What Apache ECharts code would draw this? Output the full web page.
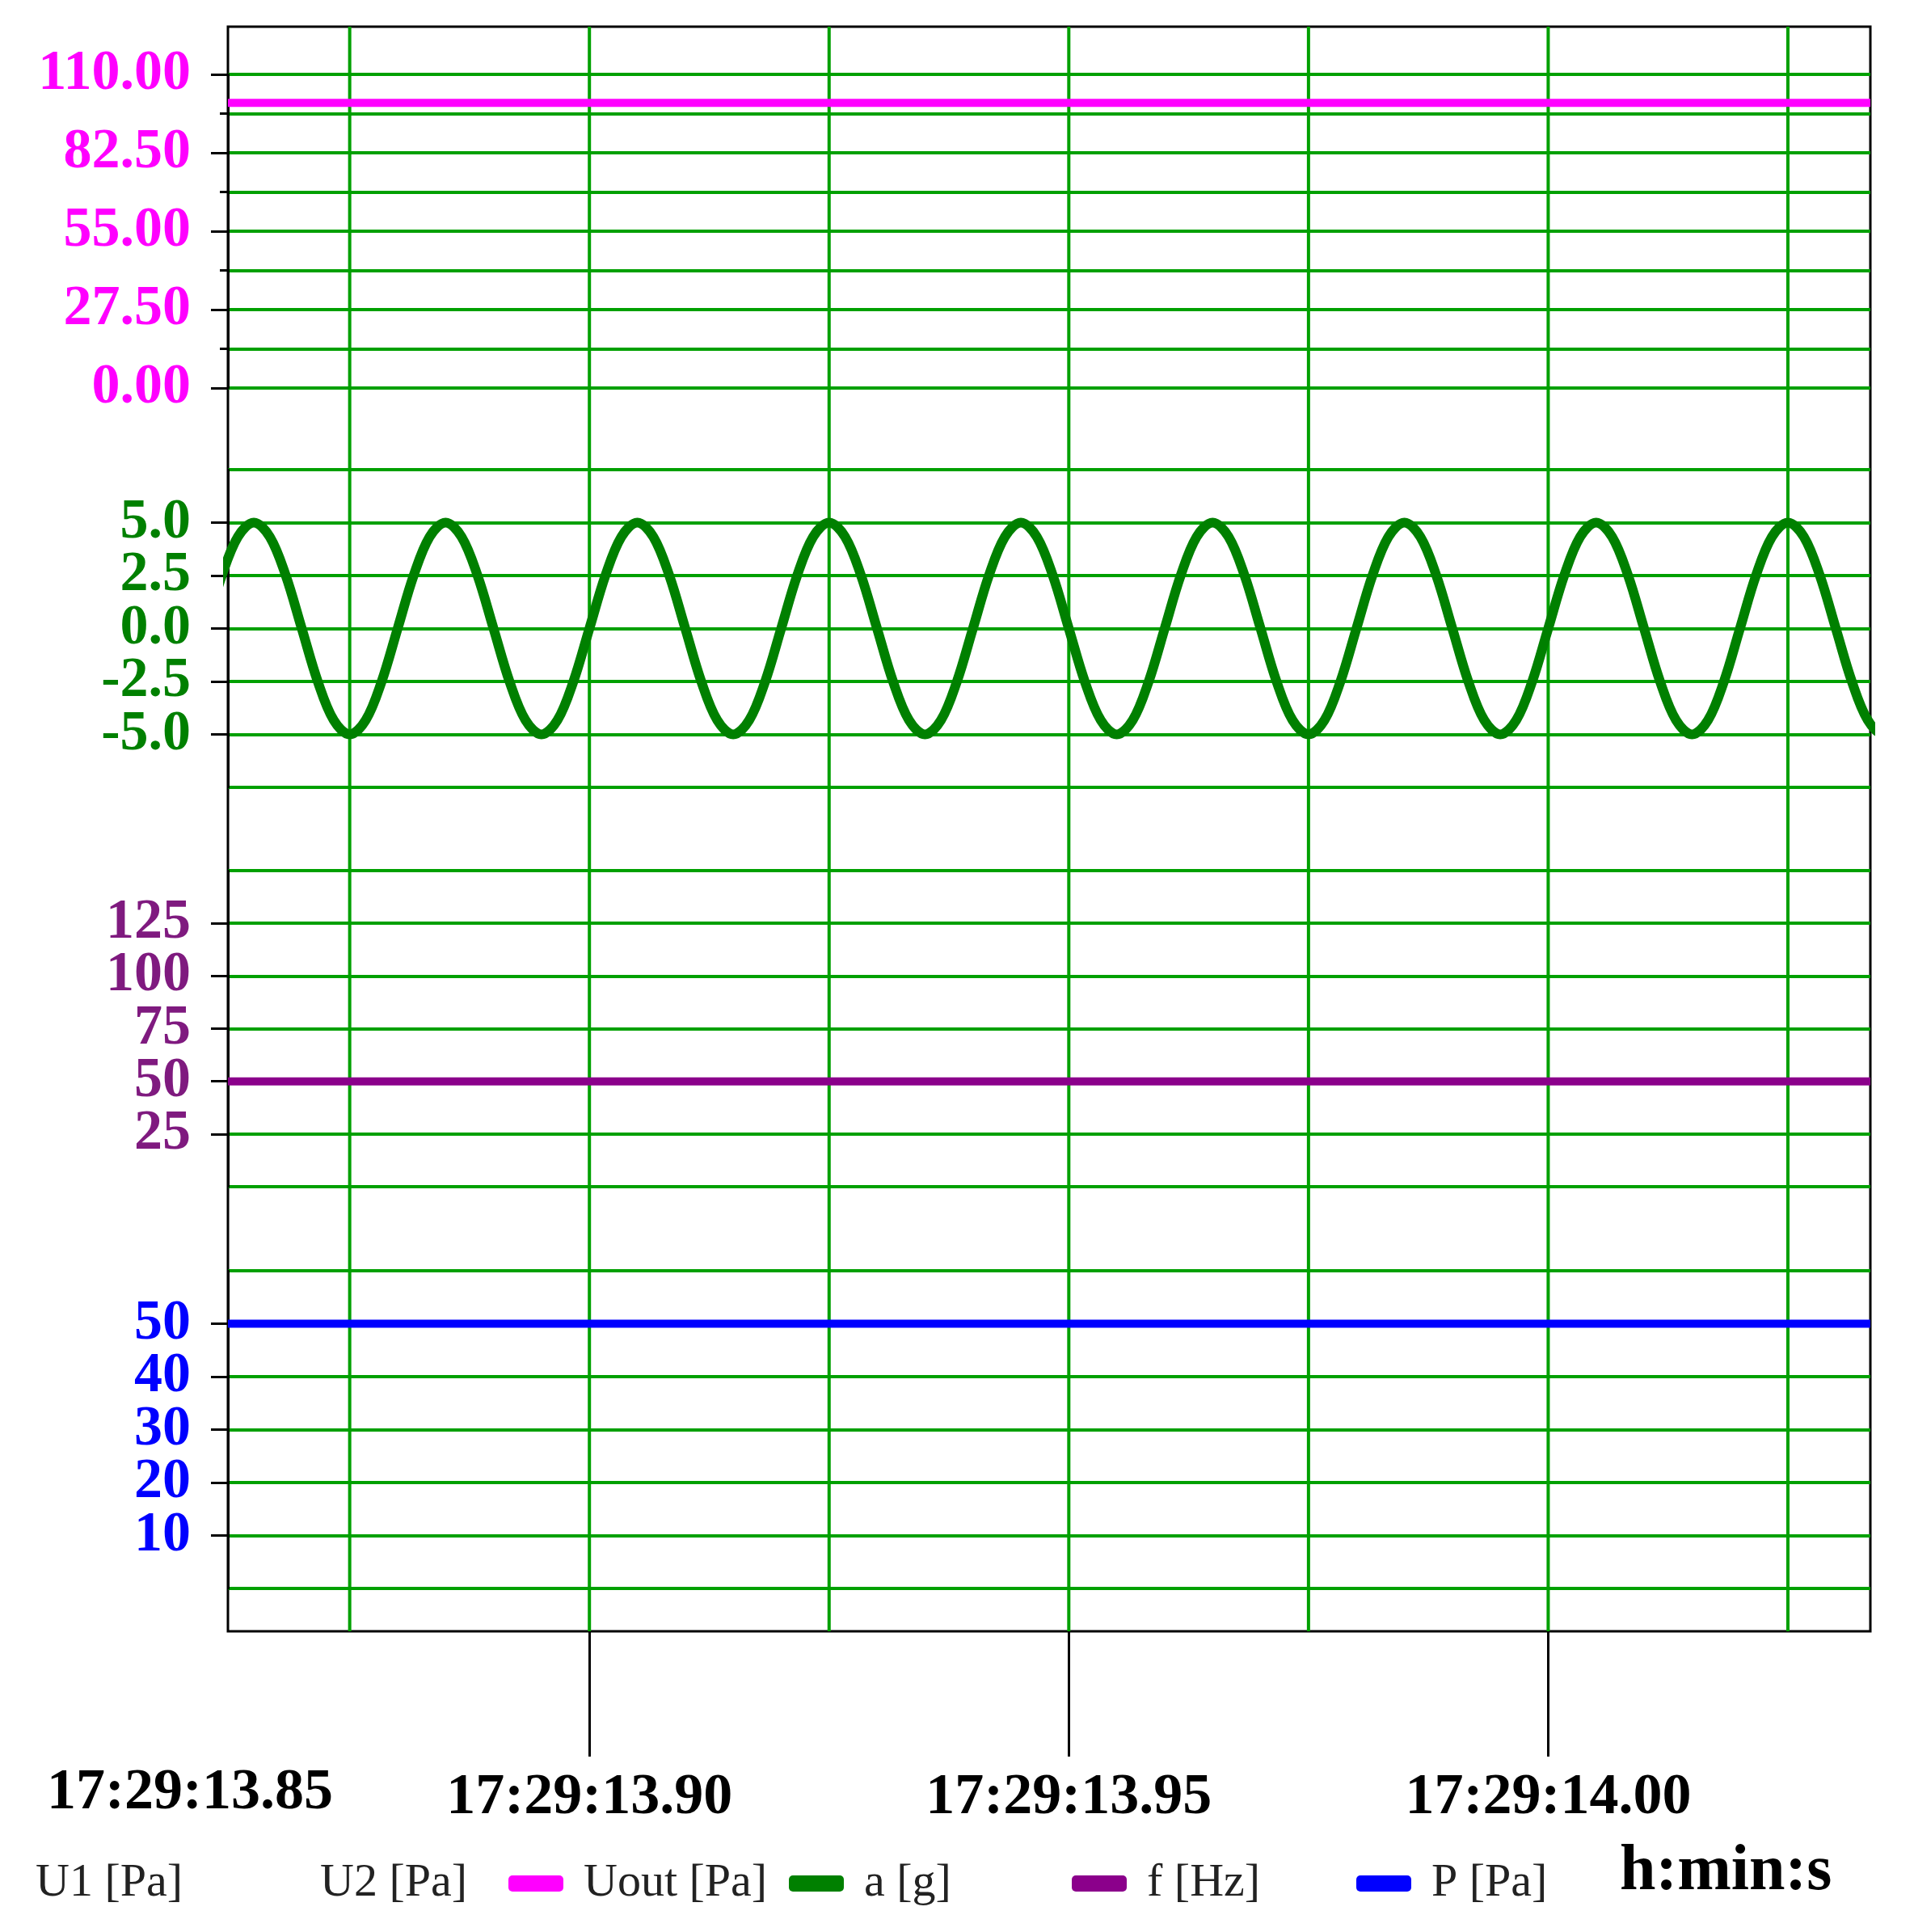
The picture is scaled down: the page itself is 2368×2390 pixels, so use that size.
<!DOCTYPE html>
<html><head><meta charset="utf-8">
<script src="https://cdn.jsdelivr.net/npm/echarts@6/dist/echarts.min.js"></script>
<style>html,body{margin:0;padding:0;background:#fff}#c{width:2368px;height:2390px}</style>
</head><body><div id="c"></div>
<script>
// ---- data ----
const seriesNames = ['U1 [Pa]', 'U2 [Pa]', 'Uout [Pa]', 'a [g]', 'f [Hz]', 'P [Pa]'];
const xTickValues = [13.90, 13.95, 14.00];
const xFirstLabel = '17:29:13.85';
const vGridTimes = [13.875, 13.900, 13.925, 13.950, 13.975, 14.000, 14.025];
const flatTimes = [13.8623, 14.0336];
const uoutValues = [100, 100];
const fValues = [50, 50];
const pValues = [50, 50];
const aStart = 13.86, aStep = 0.02 / 12;
const aValues = [
 0,2.5,4.33,5,4.33,2.5,0,-2.5,-4.33,-5,-4.33,-2.5,
 0,2.5,4.33,5,4.33,2.5,0,-2.5,-4.33,-5,-4.33,-2.5,
 0,2.5,4.33,5,4.33,2.5,0,-2.5,-4.33,-5,-4.33,-2.5,
 0,2.5,4.33,5,4.33,2.5,0,-2.5,-4.33,-5,-4.33,-2.5,
 0,2.5,4.33,5,4.33,2.5,0,-2.5,-4.33,-5,-4.33,-2.5,
 0,2.5,4.33,5,4.33,2.5,0,-2.5,-4.33,-5,-4.33,-2.5,
 0,2.5,4.33,5,4.33,2.5,0,-2.5,-4.33,-5,-4.33,-2.5,
 0,2.5,4.33,5,4.33,2.5,0,-2.5,-4.33,-5,-4.33,-2.5,
 0,2.5,4.33,5,4.33,2.5,0,-2.5,-4.33,-5,-4.33,-2.5,
 0
];
// ---- layout/styles ----
const XMIN = 13.8623, XMAX = 14.0336;
const L = 282, R = 54;
const GREEN = '#00a000';
const C = {uout:'#ff00ff', a:'#008000', f:'#8b008b', fLab:'#7f1a7f', p:'#0000ff'};
const yFont = {fontFamily:'Liberation Serif', fontWeight:'bold', fontSize:70};

function dataGrid(top, height){ return {left:L, right:R, top:top, height:height, show:false}; }
function hiddenX(gi){ return {type:'value', gridIndex:gi, min:XMIN, max:XMAX, show:false}; }
function yAx(gi, min, max, interval, color, fmt, extra){
  return Object.assign({
    type:'value', gridIndex:gi, min:min, max:max, interval:interval,
    axisLine:{show:true, lineStyle:{color:'#000', width:3}},
    axisTick:{show:true, length:21, lineStyle:{color:'#000', width:3}},
    axisLabel:Object.assign({color:color, margin:46, formatter:fmt}, yFont),
    splitLine:{show:true, lineStyle:{color:GREEN, width:4}}
  }, extra||{});
}
const pair = (xs, ys) => xs.map((x,i)=>[x, ys[i]]);
const aData = aValues.map((v,i)=>[aStart + i*aStep, v]);
const legendItems = [
  {name:seriesNames[0], left:13, hidden:true},
  {name:seriesNames[1], left:365, hidden:true},
  {name:seriesNames[2], left:624},
  {name:seriesNames[3], left:971},
  {name:seriesNames[4], left:1321},
  {name:seriesNames[5], left:1673}
];
const vLineSeries = vGridTimes.map(t=>({
  type:'line', xAxisIndex:0, yAxisIndex:0, data:[[t,0],[t,1]], showSymbol:false, silent:true,
  lineStyle:{color:GREEN, width:4}, z:1
}));

const chart = echarts.init(document.getElementById('c'));
chart.setOption({
  animation:false,
  backgroundColor:'#fff',
  grid:[
    {left:L, right:R, top:33, bottom:372, show:true, borderColor:'#000', borderWidth:3, backgroundColor:'transparent'},
    dataGrid(92, 388), dataGrid(581, 393), dataGrid(1077, 391), dataGrid(1572, 393)
  ],
  xAxis:[
    {type:'value', gridIndex:0, min:XMIN, max:XMAX,
     axisLine:{show:false},
     axisTick:{show:true, customValues:xTickValues, length:155, lineStyle:{color:'#000', width:3}},
     axisLabel:{show:true, customValues:xTickValues, margin:170, color:'#000', fontFamily:'Liberation Serif', fontWeight:'bold', fontSize:72,
       formatter:v=>'17:29:'+v.toFixed(2)},
     splitLine:{show:false}},
    hiddenX(1), hiddenX(2), hiddenX(3), hiddenX(4)
  ],
  yAxis:[
    {type:'value', gridIndex:0, min:0, max:1, show:false},
    yAx(1, 0, 110, 27.5, C.uout, v=>v.toFixed(2), {
      minorTick:{show:true, splitNumber:2, length:10, lineStyle:{color:'#000', width:3}},
      minorSplitLine:{show:true, lineStyle:{color:GREEN, width:4}}}),
    yAx(2, -7.5, 7.5, 2.5, C.a, v=>v.toFixed(1)),
    yAx(3, 0, 150, 25, C.fLab, v=>String(v)),
    yAx(4, 0, 60, 10, C.p, v=>String(v))
  ],
  legend: legendItems.map(o=>{
    const lg = {
      data:[o.name], left:o.left, top:2296, itemWidth:o.hidden?1:68, itemHeight:20, icon:'roundRect',
      selectedMode:false,
      textStyle:{fontFamily:'Liberation Serif', fontSize:58, color:'#222', padding:[0,0,0,20]}
    };
    if (o.hidden) lg.itemStyle = {color:'transparent'};
    return lg;
  }),
  graphic:[
    {type:'text', left:58, top:2182, style:{text:xFirstLabel, fontFamily:'Liberation Serif', fontWeight:'bold', fontSize:72, fill:'#000'}},
    {type:'text', left:2004, top:2276, style:{text:'h:min:s', fontFamily:'Liberation Serif', fontWeight:'bold', fontSize:80, fill:'#000'}}
  ],
  series:[
    {name:seriesNames[0], type:'line', xAxisIndex:0, yAxisIndex:0, data:[], itemStyle:{color:'transparent'}, showSymbol:false},
    {name:seriesNames[1], type:'line', xAxisIndex:0, yAxisIndex:0, data:[], itemStyle:{color:'transparent'}, showSymbol:false},
    ...vLineSeries,
    {name:seriesNames[2], type:'line', xAxisIndex:1, yAxisIndex:1, data:pair(flatTimes, uoutValues), itemStyle:{color:C.uout}, lineStyle:{color:C.uout, width:10}, showSymbol:false, z:5},
    {name:seriesNames[3], type:'line', xAxisIndex:2, yAxisIndex:2, data:aData, itemStyle:{color:C.a}, lineStyle:{color:C.a, width:12}, showSymbol:false, smooth:0.35, z:5},
    {name:seriesNames[4], type:'line', xAxisIndex:3, yAxisIndex:3, data:pair(flatTimes, fValues), itemStyle:{color:C.f}, lineStyle:{color:C.f, width:10}, showSymbol:false, z:5},
    {name:seriesNames[5], type:'line', xAxisIndex:4, yAxisIndex:4, data:pair(flatTimes, pValues), itemStyle:{color:C.p}, lineStyle:{color:C.p, width:10}, showSymbol:false, z:5}
  ]
});
</script></body></html>
